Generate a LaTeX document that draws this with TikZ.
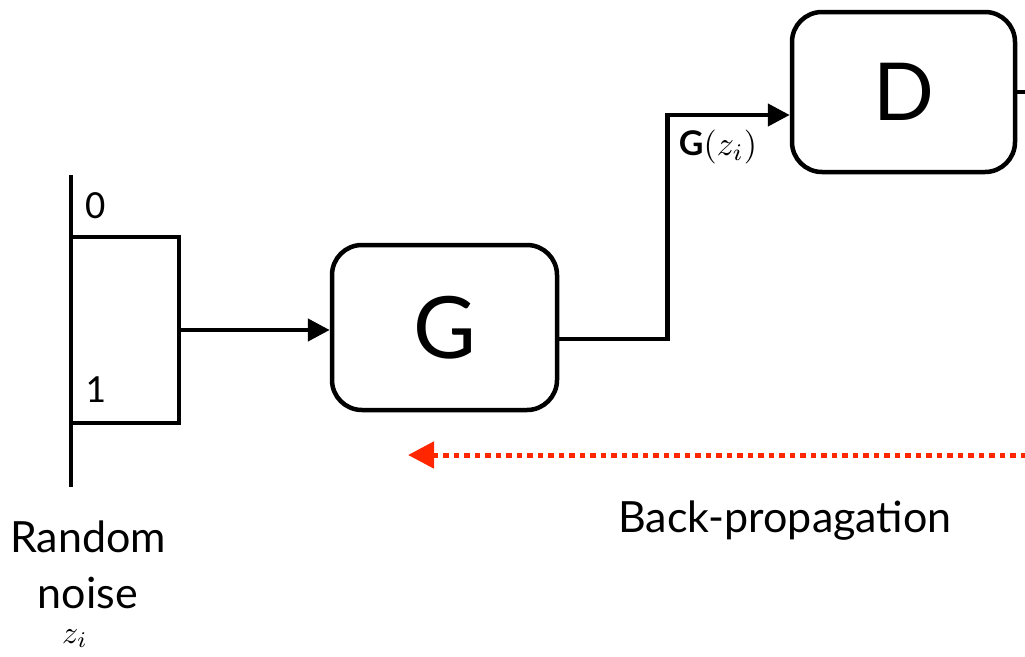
\documentclass[tikz,border=0pt]{standalone}
\usepackage{fontspec}
\setmainfont{Lato}
\newfontfamily\digitfont{Carlito}
\usetikzlibrary{arrows.meta}
\definecolor{bpred}{RGB}{255,38,0}
\tikzset{
  line/.style={line width=4.5pt},
  conn/.style={line width=4.5pt,-{Triangle[length=22pt,width=22pt]}},
  block/.style={draw,line width=4.5pt,rounded corners=30pt,fill=white},
  bparrow/.style={bpred,line width=5pt,dash pattern=on 5.5pt off 5pt,-{Triangle[length=26pt,width=26pt]}},
  lbl/.style={inner sep=0pt,anchor=base}
}
\begin{document}
\begin{tikzpicture}[x=1pt,y=-1pt]
\useasboundingbox (0,0) rectangle (1025,656);
% noise axis and box
\coordinate (axtop) at (71,175);
\coordinate (axbot) at (71,487);
\draw[line] (axtop) -- (axbot);
\node[draw,line width=4.5pt,minimum width=108pt,minimum height=186pt,inner sep=0pt] (noise) at (125,330) {};
\node[lbl,font=\digitfont\fontsize{40}{48}\selectfont] (zero) at (96,218) {0};
\node[lbl,font=\digitfont\fontsize{40}{48}\selectfont] (one) at (96,402) {1};
% G and D
\node[block,minimum width=225pt,minimum height=165pt] (G) at (444.5,327.5) {\fontsize{86}{90}\selectfont G};
\node[block,minimum width=223pt,minimum height=160pt] (D) at (903.5,92) {\fontsize{80}{86}\selectfont D};
% connectors
\draw[conn] (noise.east) -- (noise.east -| G.west);
\draw[conn] ([yshift=-11.5pt]G.east) -- ++(108,0) |- ([yshift=-23pt]D.west);
\node[lbl,scale=3.4] (gz) at (718,155) {\textbf{G}$(z_i)$};
\coordinate (dout) at (1026,90);
\draw[line] (D.east) -- (D.east -| dout);
% back-propagation
\coordinate (bpstart) at (1026,455);
\coordinate (bpend) at (408,455);
\draw[bparrow] (bpstart) -- (bpend);
\node[lbl,font=\fontsize{43}{50}\selectfont] (bp) at (785,532) {Back-propagation};
% labels
\node[lbl,font=\fontsize{43}{50}\selectfont] (rand) at (88,552) {Random};
\node[lbl,font=\fontsize{43}{50}\selectfont] (nois) at (88,608) {noise};
\node[lbl,scale=3.2] (zi) at (75,643) {$z_i$};
\end{tikzpicture}
\end{document}
